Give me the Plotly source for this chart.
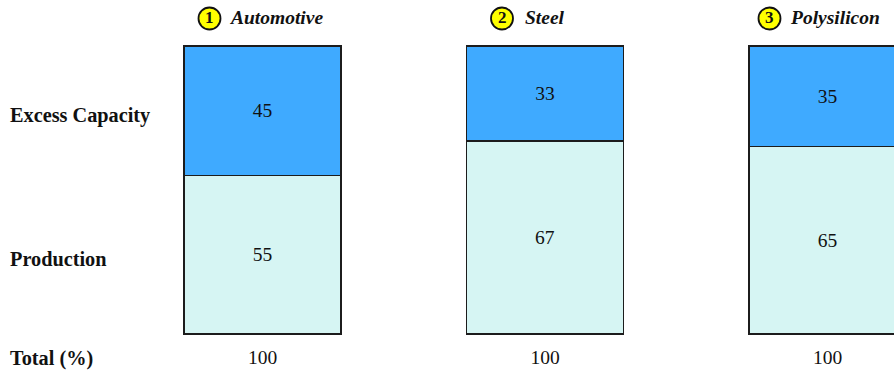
import plotly.graph_objects as go

# ---- data ----
categories = ["Automotive", "Steel", "Polysilicon"]
category_numbers = ["1", "2", "3"]
production = [55, 67, 65]
excess_capacity = [45, 33, 35]
totals = [p + e for p, e in zip(production, excess_capacity)]
row_labels = ["Excess Capacity", "Production", "Total (%)"]

# ---- style ----
FONT = "Times New Roman, Liberation Serif, serif"
FS = 19.5
FS_LAB = 20.3
C_EXCESS = "#3FAAFF"
C_PROD = "#D6F5F3"
EDGE = "#1c1c1c"
BAR_W = 0.556
x = list(range(len(categories)))

fig = go.Figure()
fig.add_trace(go.Bar(
    x=x, y=production, width=BAR_W, marker=dict(color=C_PROD, line=dict(color=EDGE, width=1.2)),
    text=[str(v) for v in production], textposition="inside", insidetextanchor="middle",
    textfont=dict(family=FONT, size=FS, color="#111"), hoverinfo="skip", textangle=0,
))
fig.add_trace(go.Bar(
    x=x, y=excess_capacity, width=BAR_W, marker=dict(color=C_EXCESS, line=dict(color=EDGE, width=1.2)),
    text=[str(v) for v in excess_capacity], textposition="inside", insidetextanchor="middle",
    textfont=dict(family=FONT, size=FS, color="#111"), hoverinfo="skip", textangle=0,
))
# totals row
fig.add_trace(go.Scatter(
    x=x, y=[-8.6] * len(x), mode="text", text=[str(t) for t in totals],
    textfont=dict(family=FONT, size=FS, color="#111"), hoverinfo="skip",
))

annotations = []
shapes = []
# header offsets (pixels relative to bar centre): circle centre, text start
circle_dx = [-53, -43, -58]
text_dx = [-36, -22, -40]
for i, (cat, num) in enumerate(zip(categories, category_numbers)):
    cx = circle_dx[i]
    shapes.append(dict(
        type="circle", xref="x", yref="y", xsizemode="pixel", ysizemode="pixel",
        xanchor=i, yanchor=100, x0=cx - 11, x1=cx + 11, y0=16.5, y1=38.5,
        fillcolor="#FFFF00", line=dict(color="#111", width=1.8),
    ))
    annotations.append(dict(
        x=i, y=100, xref="x", yref="y", xshift=cx, yshift=28, text="<b>%s</b>" % num,
        showarrow=False, xanchor="center", yanchor="middle",
        font=dict(family=FONT, size=17, color="#111"),
    ))
    annotations.append(dict(
        x=i, y=100, xref="x", yref="y", xshift=text_dx[i], yshift=28, text="<b><i>%s</i></b>" % cat,
        showarrow=False, xanchor="left", yanchor="middle",
        font=dict(family=FONT, size=FS, color="#111"),
    ))

row_y = [75.8, 26.2, -8.6]
for lab, yy in zip(row_labels, row_y):
    annotations.append(dict(
        x=10 / 894, y=yy, xref="paper", yref="y", xshift=-2, text="<b>%s</b>" % lab, showarrow=False,
        xanchor="left", yanchor="middle", font=dict(family=FONT, size=FS_LAB, color="#111"),
    ))

fig.update_layout(
    barmode="stack", width=894, height=373, margin=dict(l=0, r=0, t=0, b=0),
    paper_bgcolor="white", plot_bgcolor="white", showlegend=False,
    xaxis=dict(range=[-0.9292, 2.2354], visible=False, fixedrange=True),
    yaxis=dict(range=[-13.54, 115.97], visible=False, fixedrange=True),
    annotations=annotations, shapes=shapes,
    uniformtext=dict(mode=False),
)
fig.write_html("out.html")
